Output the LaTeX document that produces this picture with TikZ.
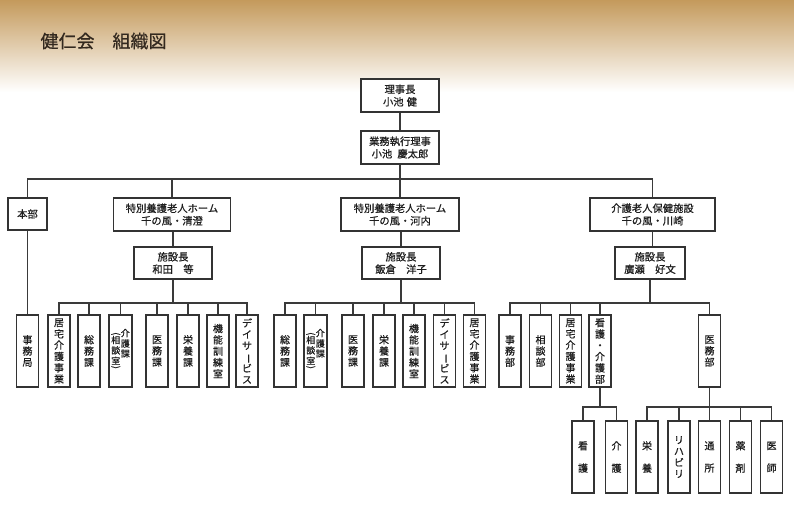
\documentclass[tikz,border=0pt]{standalone}
\usepackage{fontspec}
\setmainfont{Noto Sans CJK JP}[FakeBold=0.6]
\definecolor{boxc}{HTML}{333333}
\definecolor{linec}{HTML}{3A3A3A}
\definecolor{txtc}{HTML}{1E1E1E}
\definecolor{titlec}{HTML}{33291F}
\definecolor{tan}{HTML}{C49A5C}
\newcommand{\lng}{\rotatebox[origin=c]{-90}{ー}}
\newcommand{\vcol}[1]{\begin{tabular}[t]{@{}c@{}}#1\end{tabular}}
\newcommand{\kaigoka}{{\fontsize{9}{9.5}\selectfont\renewcommand{\arraystretch}{1}%
  \raisebox{4pt}{\vcol{\rotatebox[origin=c]{-90}{(}\\[-3.5pt]相\\談\\室\\[-3.5pt]\rotatebox[origin=c]{-90}{)}}\hspace{0.5pt}\vcol{介\\護\\課}}}}
\begin{document}
\begin{tikzpicture}[x=1pt,y=-1pt,
  box/.style={draw=boxc, line width=1.2pt, fill=white, inner sep=0pt, align=center,
    font=\fontsize{10.3}{12.5}\selectfont, text=txtc},
  hb/.style={box, minimum height=33pt},
  vb/.style={box, minimum width=22pt, minimum height=72pt, font=\fontsize{10}{11.3}\selectfont},
  link/.style={draw=linec, line width=1.1pt}]
\useasboundingbox (0,0) rectangle (794,507);
\shade[top color=tan, bottom color=white] (0,0) rectangle (794,92);
\node[anchor=west, font=\fontsize{18}{20}\selectfont, text=titlec] (title) at (37,41) {健仁会　組織図};
% top
\node[hb, minimum width=78pt] (chair) at (400,95.5) {理事長\\小池\hspace{0.3em}健};
\node[hb, minimum width=78pt] (exec) at (400,147.5) {業務執行理事\\小池\hspace{0.5em}慶太郎};
\coordinate (bus0) at (0,179);
\node[hb, minimum width=39pt, minimum height=32pt] (honbu) at (27.5,214) {本部};
\node[hb, minimum width=117pt] (fa) at (172,214.5) {特別養護老人ホーム\\千の風・清澄};
\node[hb, minimum width=118pt] (fb) at (400,214.5) {特別養護老人ホーム\\千の風・河内};
\node[hb, minimum width=125pt] (fc) at (652.5,214.5) {介護老人保健施設\\千の風・川崎};
\node[hb, minimum width=78pt, minimum height=32pt] (da) at (173,263) {施設長\\和田　等};
\node[hb, minimum width=78pt, minimum height=32pt] (db) at (401,263) {施設長\\飯倉　洋子};
\node[hb, minimum width=70pt, minimum height=32pt] (dc) at (650,263) {施設長\\廣瀬　好文};
% row 1
\node[vb] (jm) at (27.5,351) {事\\務\\局};
\node[vb] (a1) at (59,351) {居\\宅\\介\\護\\事\\業};
\node[vb] (a2) at (89,351) {総\\務\\課};
\node[vb, minimum width=23pt] (a3) at (120.5,351) {\kaigoka};
\node[vb] (a4) at (157,351) {医\\務\\課};
\node[vb] (a5) at (188,351) {栄\\養\\課};
\node[vb] (a6) at (218,351) {機\\能\\訓\\練\\室};
\node[vb] (a7) at (247,351) {デ\\イ\\サ\\\lng\\ビ\\ス};
\node[vb] (b1) at (285,351) {総\\務\\課};
\node[vb, minimum width=23pt] (b2) at (315.5,351) {\kaigoka};
\node[vb] (b3) at (353,351) {医\\務\\課};
\node[vb] (b4) at (384,351) {栄\\養\\課};
\node[vb] (b5) at (414,351) {機\\能\\訓\\練\\室};
\node[vb] (b6) at (444.5,351) {デ\\イ\\サ\\\lng\\ビ\\ス};
\node[vb] (b7) at (474.5,351) {居\\宅\\介\\護\\事\\業};
\node[vb] (c1) at (510,351) {事\\務\\部};
\node[vb] (c2) at (540.5,351) {相\\談\\部};
\node[vb] (c3) at (570.5,351) {居\\宅\\介\\護\\事\\業};
\node[vb] (c4) at (600,351) {看\\護\\・\\介\\護\\部};
\node[vb] (c5) at (709.5,351) {医\\務\\部};
% row 2
\node[vb] (n1) at (583,457) {看\\[11pt]護};
\node[vb] (n2) at (616.5,457) {介\\[11pt]護};
\node[vb] (m1) at (647,457) {栄\\[11pt]養};
\node[vb] (m2) at (679,457) {リ\\ハ\\ビ\\リ};
\node[vb] (m3) at (709.5,457) {通\\[11pt]所};
\node[vb] (m4) at (740.5,457) {薬\\[11pt]剤};
\node[vb] (m5) at (771.5,457) {医\\[11pt]師};
% buses
\coordinate (busA) at (0,303);
\coordinate (busS) at (0,407);
% connectors
\draw[link] (chair) -- (exec);
\draw[link] (exec.south) -- (exec.south |- bus0);
\draw[link] (honbu.north) |- (fc.north |- bus0) -- (fc.north);
\draw[link] (fa.north) -- (fa.north |- bus0);
\draw[link] (fb.north) -- (fb.north |- bus0);
\draw[link] (honbu) -- (jm);
\draw[link] (da.north) -- (da.north |- fa.south);
\draw[link] (db.north) -- (db.north |- fb.south);
\draw[link] (fc.south) -- (fc.south |- dc.north);
\draw[link] (da.south) -- (da.south |- busA);
\draw[link] (db.south) -- (db.south |- busA);
\draw[link] (dc.south) -- (dc.south |- busA);
\draw[link] (a1.north) |- (a7.north |- busA) -- (a7.north);
\foreach \n in {a2,a3,a4,a5,a6} \draw[link] (\n.north) -- (\n.north |- busA);
\draw[link] (b1.north) |- (b7.north |- busA) -- (b7.north);
\foreach \n in {b2,b3,b4,b5,b6} \draw[link] (\n.north) -- (\n.north |- busA);
\draw[link] (c1.north) |- (c5.north |- busA) -- (c5.north);
\foreach \n in {c2,c3,c4} \draw[link] (\n.north) -- (\n.north |- busA);
\draw[link] (c4.south) -- (c4.south |- busS);
\draw[link] (n1.north) |- (n2.north |- busS) -- (n2.north);
\draw[link] (c5.south) -- (c5.south |- busS);
\draw[link] (m1.north) |- (m5.north |- busS) -- (m5.north);
\foreach \n in {m2,m3,m4} \draw[link] (\n.north) -- (\n.north |- busS);
\end{tikzpicture}
\end{document}
